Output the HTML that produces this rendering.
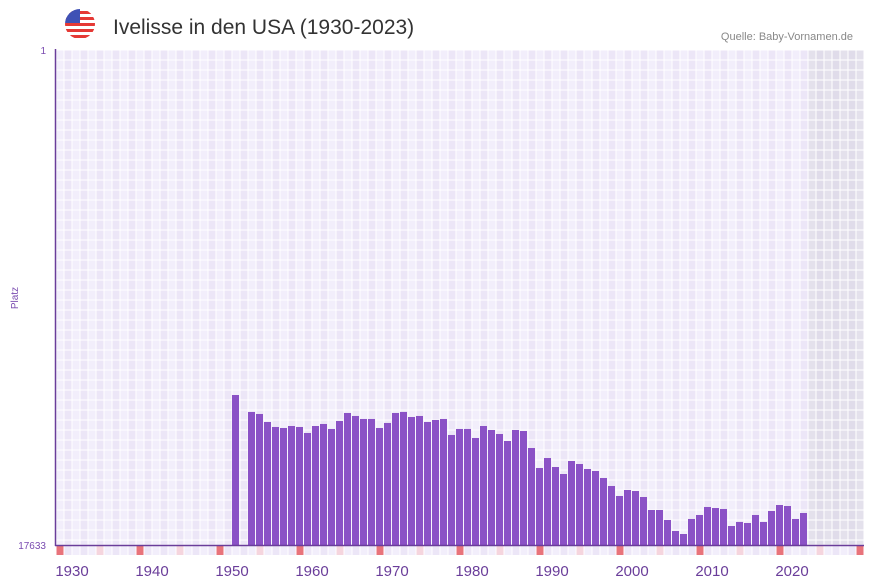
<!DOCTYPE html>
<html><head><meta charset="utf-8"><style>
body{margin:0;background:#fff;font-family:"Liberation Sans",sans-serif}
svg{display:block}
</style></head><body>
<svg id="c" width="873" height="587">
<g>
<clipPath id="fc"><circle cx="80" cy="24" r="15"/></clipPath>
<g clip-path="url(#fc)">
<rect x="65" y="9" width="30" height="30" fill="#fff"/>
<rect x="65" y="11" width="30" height="3" fill="#e53935"/>
<rect x="65" y="17" width="30" height="3" fill="#e53935"/>
<rect x="65" y="23" width="30" height="3" fill="#e53935"/>
<rect x="65" y="29" width="30" height="3" fill="#e53935"/>
<rect x="65" y="35" width="30" height="3" fill="#e53935"/>
<rect x="65" y="9" width="15" height="14" fill="#3f51b5"/>
</g></g>
<text x="113" y="34" font-size="21" fill="#333">Ivelisse in den USA (1930-2023)</text>
<text x="853" y="40" font-size="11" fill="#888" text-anchor="end">Quelle: Baby-Vornamen.de</text>
<g id="grid"></g><g id="bars"></g><g id="strip"></g><g id="xl"></g>
<line x1="55.5" y1="49" x2="55.5" y2="546" stroke="#6a3d9a" stroke-width="1.5"/>
<line x1="55" y1="545.5" x2="864" y2="545.5" stroke="#6a3d9a" stroke-width="1.5"/>
<text x="46" y="54" font-size="10" fill="#7a4bb0" text-anchor="end">1</text>
<text x="46" y="549" font-size="10" fill="#7a4bb0" text-anchor="end">17633</text>
<text x="18" y="298" font-size="10" fill="#7a4bb0" text-anchor="middle" transform="rotate(-90 18 298)">Platz</text>
</svg>
<script>
const years=[1950,1952,1953,1954,1955,1956,1957,1958,1959,1960,1961,1962,1963,1964,1965,1966,1967,1968,1969,1970,1971,1972,1973,1974,1975,1976,1977,1978,1979,1980,1981,1982,1983,1984,1985,1986,1987,1988,1989,1990,1991,1992,1993,1994,1995,1996,1997,1998,1999,2000,2001,2002,2003,2004,2005,2006,2007,2008,2009,2010,2011,2012,2013,2014,2015,2016,2017,2018,2019,2020,2021];
const ranks=[12290,12894,12966,13251,13429,13465,13394,13429,13643,13394,13322,13500,13215,12930,13037,13144,13144,13465,13286,12930,12894,13073,13037,13251,13180,13144,13714,13500,13500,13821,13394,13536,13679,13928,13536,13572,14178,14890,14534,14855,15104,14641,14748,14926,14997,15246,15531,15887,15674,15710,15923,16386,16386,16742,17134,17241,16706,16564,16279,16315,16350,16956,16813,16849,16564,16813,16421,16208,16244,16706,16493];
const xTicks=[1930,1940,1950,1960,1970,1980,1990,2000,2010,2020];
const yMin=1,yMax=17633,y0=50,y1=545,x0=56,yr0=1928,cw=8;
const X=y=>x0+(y-yr0)*cw;
const Y=r=>y0+(r-yMin)/(yMax-yMin)*(y1-y0);
const NS="http://www.w3.org/2000/svg";
function mk(p,t,a){const e=document.createElementNS(NS,t);for(const k in a)e.setAttribute(k,a[k]);p.appendChild(e);return e;}
const grid=document.getElementById('grid');
for(let i=0;i<101;i++){const yr=yr0+i;const gray=yr>=2022;
 for(let j=0;j<50;j++){const h=Math.min(10,y1-(y0+j*10));if(h<=0)break;
  const c=mk(grid,'rect',{x:X(yr)+0.5,y:y0+j*10+0.5,width:7,height:h-1,fill:gray?(i%2?'#e0dcea':'#e4e1ec'):(i%2?'#ece6f7':'#f2eefb')});
  
  }}
const bars=document.getElementById('bars');
years.forEach((yr,i)=>{const t=Y(ranks[i]);
 const b=mk(bars,'rect',{x:X(yr),y:t,width:7,height:y1-t,fill:'#8b52c6'});
 
 });
const strip=document.getElementById('strip');
for(let i=0;i<101;i++){const yr=yr0+i;const d=yr%10;
 const f=d===8?'#e8737b':d===3?'#f5d5de':(i%2?'#ece6f7':'#f2eefb');
 const s=mk(strip,'rect',{x:X(yr)+0.5,y:546,width:7,height:9,fill:f});
 
 }
const xl=document.getElementById('xl');
xTicks.forEach(t=>{const l=mk(xl,'text',{x:X(t),y:576,'font-size':15,fill:'#6a3d9a','text-anchor':'middle'});l.textContent=t;
 
 });
</script>
</body></html>
